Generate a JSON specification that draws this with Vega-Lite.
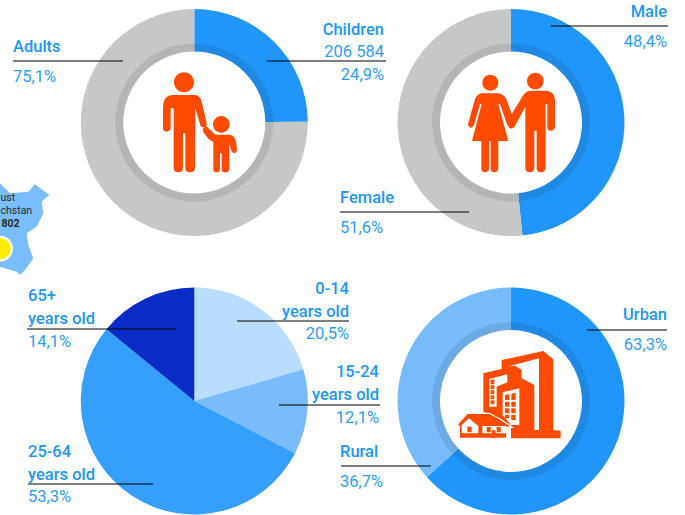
{
"$schema":"https://vega.github.io/schema/vega-lite/v6.json",
"width":685,"height":515,"padding":0,
"autosize":{"type":"none"},
"background":"white",
"config":{"view":{"stroke":null},"axis":{"disable":true},
 "style":{
  "ttl":{"font":"Roboto","fontSize":16.5,"fontWeight":500,"color":"#2196F3","baseline":"alphabetic","lineHeight":23},
  "num":{"font":"Roboto","fontSize":16.5,"fontWeight":400,"color":"#2F9DF6","baseline":"alphabetic"},
  "lead":{"stroke":"#606060","strokeWidth":1.2},
  "map":{"font":"Roboto","fontSize":10.5,"color":"#2a2a2a","baseline":"alphabetic"},
  "ico":{"filled":true,"size":0.4444,"opacity":1,"strokeWidth":0}
 }},
"data":{"values":[
 {"chart":"children","rank":1,"name":"Children","value":24.9,"title":["Children"],"count":"206 584","pct":"24,9%"},
 {"chart":"children","rank":2,"name":"Adults","value":75.1,"title":["Adults"],"pct":"75,1%"},
 {"chart":"sex","rank":1,"name":"Male","value":48.4,"title":["Male"],"pct":"48,4%"},
 {"chart":"sex","rank":2,"name":"Female","value":51.6,"title":["Female"],"pct":"51,6%"},
 {"chart":"age","rank":1,"name":"0-14","value":20.5,"title":["0-14","years old"],"pct":"20,5%"},
 {"chart":"age","rank":2,"name":"15-24","value":12.1,"title":["15-24","years old"],"pct":"12,1%"},
 {"chart":"age","rank":3,"name":"25-64","value":53.3,"title":["25-64","years old"],"pct":"53,3%"},
 {"chart":"age","rank":4,"name":"65+","value":14.1,"title":["65+","years old"],"pct":"14,1%"},
 {"chart":"place","rank":1,"name":"Urban","value":63.3,"title":["Urban"],"pct":"63,3%"},
 {"chart":"place","rank":2,"name":"Rural","value":36.7,"title":["Rural"],"pct":"36,7%"},
 {"chart":"map","name":"ust","pct":"ust"},
 {"chart":"map","name":"chstan","pct":"chstan"},
 {"chart":"map","name":"802","pct":"802"}
]},
"layer":[
 {"transform":[{"filter":"datum.chart=='children'"}],
  "encoding":{"theta":{"field":"value","type":"quantitative","scale":{"domain":[0,100]}},"order":{"field":"rank"}},
  "layer":[
  {"mark":{"type":"arc","innerRadius":71,"outerRadius":113.5},
   "encoding":{"x":{"datum":194.3,"scale":{"domain":[0,685],"nice":false,"zero":false}},"y":{"datum":122.5,"scale":{"domain":[0,515],"reverse":true,"nice":false,"zero":false}},
    "color":{"field":"name","type":"nominal","legend":null,"scale":{"domain":["Children","Adults","Male","Female","0-14","15-24","25-64","65+","Urban","Rural"],"range":["#2196FA","#C6C8C7","#2196FA","#C6C8C7","#BADDFE","#78BCFC","#369FFB","#0A2CC6","#2196FA","#78BBFB"]}}}},
  {"mark":{"type":"arc","innerRadius":71,"outerRadius":79,"color":"#000","opacity":0.09},"encoding":{"x":{"datum":194.3},"y":{"datum":122.5}}}
 ]},
 {"transform":[{"filter":"datum.chart=='sex'"}],
  "encoding":{"theta":{"field":"value","type":"quantitative"},"order":{"field":"rank"},"x":{"datum":511},"y":{"datum":122.5}},
  "layer":[
  {"mark":{"type":"arc","innerRadius":71,"outerRadius":113.5},"encoding":{"color":{"field":"name","type":"nominal","legend":null}}},
  {"mark":{"type":"arc","innerRadius":71,"outerRadius":79,"color":"#000","opacity":0.09}}
 ]},
 {"transform":[{"filter":"datum.chart=='age'"}],
  "encoding":{"theta":{"field":"value","type":"quantitative"},"order":{"field":"rank"},"x":{"datum":194.3},"y":{"datum":401}},
  "layer":[{"mark":{"type":"arc","outerRadius":113.5},"encoding":{"color":{"field":"name","type":"nominal","legend":null}}}]},
 {"transform":[{"filter":"datum.chart=='place'"}],
  "encoding":{"theta":{"field":"value","type":"quantitative"},"order":{"field":"rank"},"x":{"datum":511},"y":{"datum":401}},
  "layer":[
  {"mark":{"type":"arc","innerRadius":71,"outerRadius":113.5},"encoding":{"color":{"field":"name","type":"nominal","legend":null}}},
  {"mark":{"type":"arc","innerRadius":71,"outerRadius":79,"color":"#000","opacity":0.09}}
 ]},

 {"transform":[{"filter":"datum.name=='ust'"}],
  "layer":[
  {"mark":{"type":"point","style":"ico","color":"#7ABDFC","shape":"M0,550 L30,580 L85,575 L105,553 L148,585 L125,605 L130,640 L110,680 L80,700 L85,735 L100,775 L75,810 L60,825 L50,815 L0,800 Z"},"encoding":{"x":{"datum":0},"y":{"datum":0}}},
  {"mark":{"type":"point","style":"ico","color":"#ffffff","shape":"M0,707 A39,39 0 0 1 0,785 Z"},"encoding":{"x":{"datum":0},"y":{"datum":0}}},
  {"mark":{"type":"point","style":"ico","color":"#FFEE00","shape":"M0,714 A32,32 0 0 1 0,778 Z"},"encoding":{"x":{"datum":0},"y":{"datum":0}}},
  {"mark":{"type":"point","style":"ico","color":"#FF4B00","shape":"M520,285 L585,285 Q600,285 605,305 L620,370 Q622,382 610,382 Q602,382 600,372 L586,325 L585,505 Q585,517 570,517 Q556,517 556,505 L556,400 L549,400 L549,505 Q549,517 535,517 Q521,517 521,505 L521,325 L512,325 L512,385 Q510,395 500,395 Q490,395 489,385 L489,322 Q490,285 520,285 Z M522,247 A30,30 0 1 0 582,247 A30,30 0 1 0 522,247 Z M639,373 A25,25 0 1 0 689,373 A25,25 0 1 0 639,373 Z M622,381 L646,404 L688,404 Q704,405 708,425 L711,447 Q711,459 703,459 Q695,459 693,448 L688,430 L688,507 Q688,517 676,517 Q665,517 665,507 L665,460 L660,460 L660,507 Q660,517 650,517 Q640,517 640,507 L640,425 Q630,422 624,415 L611,398 Q606,388 613,382 Q618,378 622,381 Z"},"encoding":{"x":{"datum":0},"y":{"datum":0}}},
  {"mark":{"type":"point","style":"ico","color":"#FF4B00","shape":"M427,248 A24,24 0 1 0 475,248 A24,24 0 1 0 427,248 Z M561,243 A25,25 0 1 0 611,243 A25,25 0 1 0 561,243 Z M425,280 L475,280 Q492,282 500,300 L515,343 L550,285 Q558,272 575,272 L620,272 Q644,275 645,300 L645,380 Q643,392 633,392 Q622,392 622,380 L622,312 L617,312 L617,505 Q615,517 603,517 Q590,517 590,505 L590,392 L583,392 L583,505 Q581,517 570,517 Q556,517 556,505 L556,320 L525,378 Q518,388 510,385 Q503,380 500,370 L480,312 L475,312 L505,423 L475,423 L475,505 Q474,517 463,517 Q452,517 452,505 L452,423 L447,423 L447,505 Q446,517 435,517 Q424,517 424,505 L424,423 L396,423 L425,312 L420,312 L402,375 Q398,385 390,383 Q382,378 385,368 L405,298 Q412,282 425,280 Z"},"encoding":{"x":{"datum":340},"y":{"datum":0}}},
  {"mark":{"type":"point","style":"ico","color":"#FF4B00","shape":"M100,85 L155,72 L155,45 L280,18 L310,43 L310,255 L332,257 L332,280 L183,280 L183,240 L100,200 Z"},"encoding":{"x":{"datum":450},"y":{"datum":345}}},
  {"mark":{"type":"point","style":"ico","color":"#ffffff","shape":"M173,65 L267,40 L267,255 L253,255 L253,120 L215,100 L215,75 L195,62 Z M118,102 L172,88 L172,112 L140,125 L140,185 L118,185 Z M158,142 L208,130 L208,240 L183,240 L158,210 Z M221,58 L232,56 L232,70 L221,70 Z M238,54 L249,52 L249,70 L238,70 Z M221,73 L232,73 L232,85 L221,85 Z M238,73 L249,73 L249,85 L238,85 Z M221,88 L232,88 L232,100 L221,100 Z M238,88 L249,88 L249,100 L238,100 Z"},"encoding":{"x":{"datum":450},"y":{"datum":345}}},
  {"mark":{"type":"point","style":"ico","color":"#FF4B00","shape":"M122,105 L133,103 L133,118 L122,118 Z M122,121 L133,121 L133,133 L122,133 Z M122,136 L133,136 L133,148 L122,148 Z M122,151 L133,151 L133,163 L122,163 Z M122,166 L133,166 L133,178 L122,178 Z M165,150 L178,147 L178,165 L165,165 Z M184,146 L197,143 L197,165 L184,165 Z M165,170 L178,170 L178,185 L165,185 Z M184,170 L197,170 L197,185 L184,185 Z M165,190 L178,190 L178,205 L165,205 Z M184,190 L197,190 L197,205 L184,205 Z M184,210 L197,210 L197,225 L184,225 Z M165,210 L178,210 L178,220 L165,220 Z"},"encoding":{"x":{"datum":450},"y":{"datum":345}}},
  {"mark":{"type":"point","filled":true,"opacity":1,"size":0.4444,"color":"#FF4B00","stroke":"#ffffff","strokeWidth":1.2,"shape":"M22,238 L52,205 L118,205 L150,222 L187,247 L170,247 L170,280 L28,280 L28,245 Z"},"encoding":{"x":{"datum":450},"y":{"datum":345}}},
  {"mark":{"type":"point","style":"ico","color":"#ffffff","shape":"M35,265 L35,240 L57,220 L85,243 L85,265 Z M97,243 L168,243 L168,265 L97,265 Z"},"encoding":{"x":{"datum":450},"y":{"datum":345}}},
  {"mark":{"type":"point","style":"ico","color":"#FF4B00","shape":"M52,245 L65,245 L65,262 L52,262 Z M110,246 L122,246 L122,262 L110,262 Z M140,246 L152,246 L152,262 L140,262 Z M125,256 L137,256 L137,280 L125,280 Z"},"encoding":{"x":{"datum":450},"y":{"datum":345}}}
 ]},
 {"transform":[{"filter":"datum.name=='ust'"}],"mark":{"type":"text","style":"map","align":"left"},"encoding":{"x":{"datum":0.5},"y":{"datum":201},"text":{"field":"pct"}}},
 {"transform":[{"filter":"datum.name=='chstan'"}],"mark":{"type":"text","style":"map","align":"left"},"encoding":{"x":{"datum":0.5},"y":{"datum":214},"text":{"field":"pct"}}},
 {"transform":[{"filter":"datum.name=='802'"}],"mark":{"type":"text","style":"map","align":"right","fontWeight":700},"encoding":{"x":{"datum":19.5},"y":{"datum":227},"text":{"field":"pct"}}},

 {"transform":[{"filter":"datum.name=='Adults'"}],"layer":[
  {"mark":{"type":"rule","style":"lead"},"encoding":{"x":{"datum":13},"x2":{"datum":123},"y":{"datum":61}}},
  {"mark":{"type":"text","style":"ttl","align":"left"},"encoding":{"x":{"datum":13},"y":{"datum":52},"text":{"field":"title"}}},
  {"mark":{"type":"text","style":"num","align":"left"},"encoding":{"x":{"datum":13},"y":{"datum":82},"text":{"field":"pct"}}}]},
 {"transform":[{"filter":"datum.name=='Children'"}],"layer":[
  {"mark":{"type":"rule","style":"lead"},"encoding":{"x":{"datum":267},"x2":{"datum":386},"y":{"datum":61}}},
  {"mark":{"type":"text","style":"ttl","align":"right"},"encoding":{"x":{"datum":384},"y":{"datum":35},"text":{"field":"title"}}},
  {"mark":{"type":"text","style":"num","align":"right"},"encoding":{"x":{"datum":384},"y":{"datum":57},"text":{"field":"count"}}},
  {"mark":{"type":"text","style":"num","align":"right"},"encoding":{"x":{"datum":384},"y":{"datum":80},"text":{"field":"pct"}}}]},
 {"transform":[{"filter":"datum.name=='Male'"}],"layer":[
  {"mark":{"type":"rule","style":"lead"},"encoding":{"x":{"datum":551},"x2":{"datum":668},"y":{"datum":26}}},
  {"mark":{"type":"text","style":"ttl","align":"right"},"encoding":{"x":{"datum":667},"y":{"datum":17},"text":{"field":"title"}}},
  {"mark":{"type":"text","style":"num","align":"right"},"encoding":{"x":{"datum":667},"y":{"datum":47},"text":{"field":"pct"}}}]},
 {"transform":[{"filter":"datum.name=='Female'"}],"layer":[
  {"mark":{"type":"rule","style":"lead"},"encoding":{"x":{"datum":340},"x2":{"datum":469},"y":{"datum":212}}},
  {"mark":{"type":"text","style":"ttl","align":"left"},"encoding":{"x":{"datum":340},"y":{"datum":203},"text":{"field":"title"}}},
  {"mark":{"type":"text","style":"num","align":"left"},"encoding":{"x":{"datum":340},"y":{"datum":233},"text":{"field":"pct"}}}]},
 {"transform":[{"filter":"datum.name=='65+'"}],"layer":[
  {"mark":{"type":"rule","style":"lead"},"encoding":{"x":{"datum":27},"x2":{"datum":176},"y":{"datum":329}}},
  {"mark":{"type":"text","style":"ttl","align":"left"},"encoding":{"x":{"datum":28},"y":{"datum":301},"text":{"field":"title"}}},
  {"mark":{"type":"text","style":"num","align":"left"},"encoding":{"x":{"datum":28},"y":{"datum":347},"text":{"field":"pct"}}}]},
 {"transform":[{"filter":"datum.name=='25-64'"}],"layer":[
  {"mark":{"type":"rule","style":"lead"},"encoding":{"x":{"datum":28},"x2":{"datum":153},"y":{"datum":484}}},
  {"mark":{"type":"text","style":"ttl","align":"left"},"encoding":{"x":{"datum":28},"y":{"datum":457},"text":{"field":"title"}}},
  {"mark":{"type":"text","style":"num","align":"left"},"encoding":{"x":{"datum":28},"y":{"datum":502},"text":{"field":"pct"}}}]},
 {"transform":[{"filter":"datum.name=='0-14'"}],"layer":[
  {"mark":{"type":"rule","style":"lead"},"encoding":{"x":{"datum":237},"x2":{"datum":349},"y":{"datum":321}}},
  {"mark":{"type":"text","style":"ttl","align":"right"},"encoding":{"x":{"datum":349},"y":{"datum":294},"text":{"field":"title"}}},
  {"mark":{"type":"text","style":"num","align":"right"},"encoding":{"x":{"datum":349},"y":{"datum":339},"text":{"field":"pct"}}}]},
 {"transform":[{"filter":"datum.name=='15-24'"}],"layer":[
  {"mark":{"type":"rule","style":"lead"},"encoding":{"x":{"datum":279},"x2":{"datum":380},"y":{"datum":405}}},
  {"mark":{"type":"text","style":"ttl","align":"right"},"encoding":{"x":{"datum":379},"y":{"datum":377},"text":{"field":"title"}}},
  {"mark":{"type":"text","style":"num","align":"right"},"encoding":{"x":{"datum":379},"y":{"datum":423},"text":{"field":"pct"}}}]},
 {"transform":[{"filter":"datum.name=='Rural'"}],"layer":[
  {"mark":{"type":"rule","style":"lead"},"encoding":{"x":{"datum":341},"x2":{"datum":431},"y":{"datum":466}}},
  {"mark":{"type":"text","style":"ttl","align":"left"},"encoding":{"x":{"datum":340},"y":{"datum":457},"text":{"field":"title"}}},
  {"mark":{"type":"text","style":"num","align":"left"},"encoding":{"x":{"datum":340},"y":{"datum":487},"text":{"field":"pct"}}}]},
 {"transform":[{"filter":"datum.name=='Urban'"}],"layer":[
  {"mark":{"type":"rule","style":"lead"},"encoding":{"x":{"datum":587},"x2":{"datum":667},"y":{"datum":330}}},
  {"mark":{"type":"text","style":"ttl","align":"right"},"encoding":{"x":{"datum":667},"y":{"datum":320},"text":{"field":"title"}}},
  {"mark":{"type":"text","style":"num","align":"right"},"encoding":{"x":{"datum":667},"y":{"datum":350},"text":{"field":"pct"}}}]}
]
}
